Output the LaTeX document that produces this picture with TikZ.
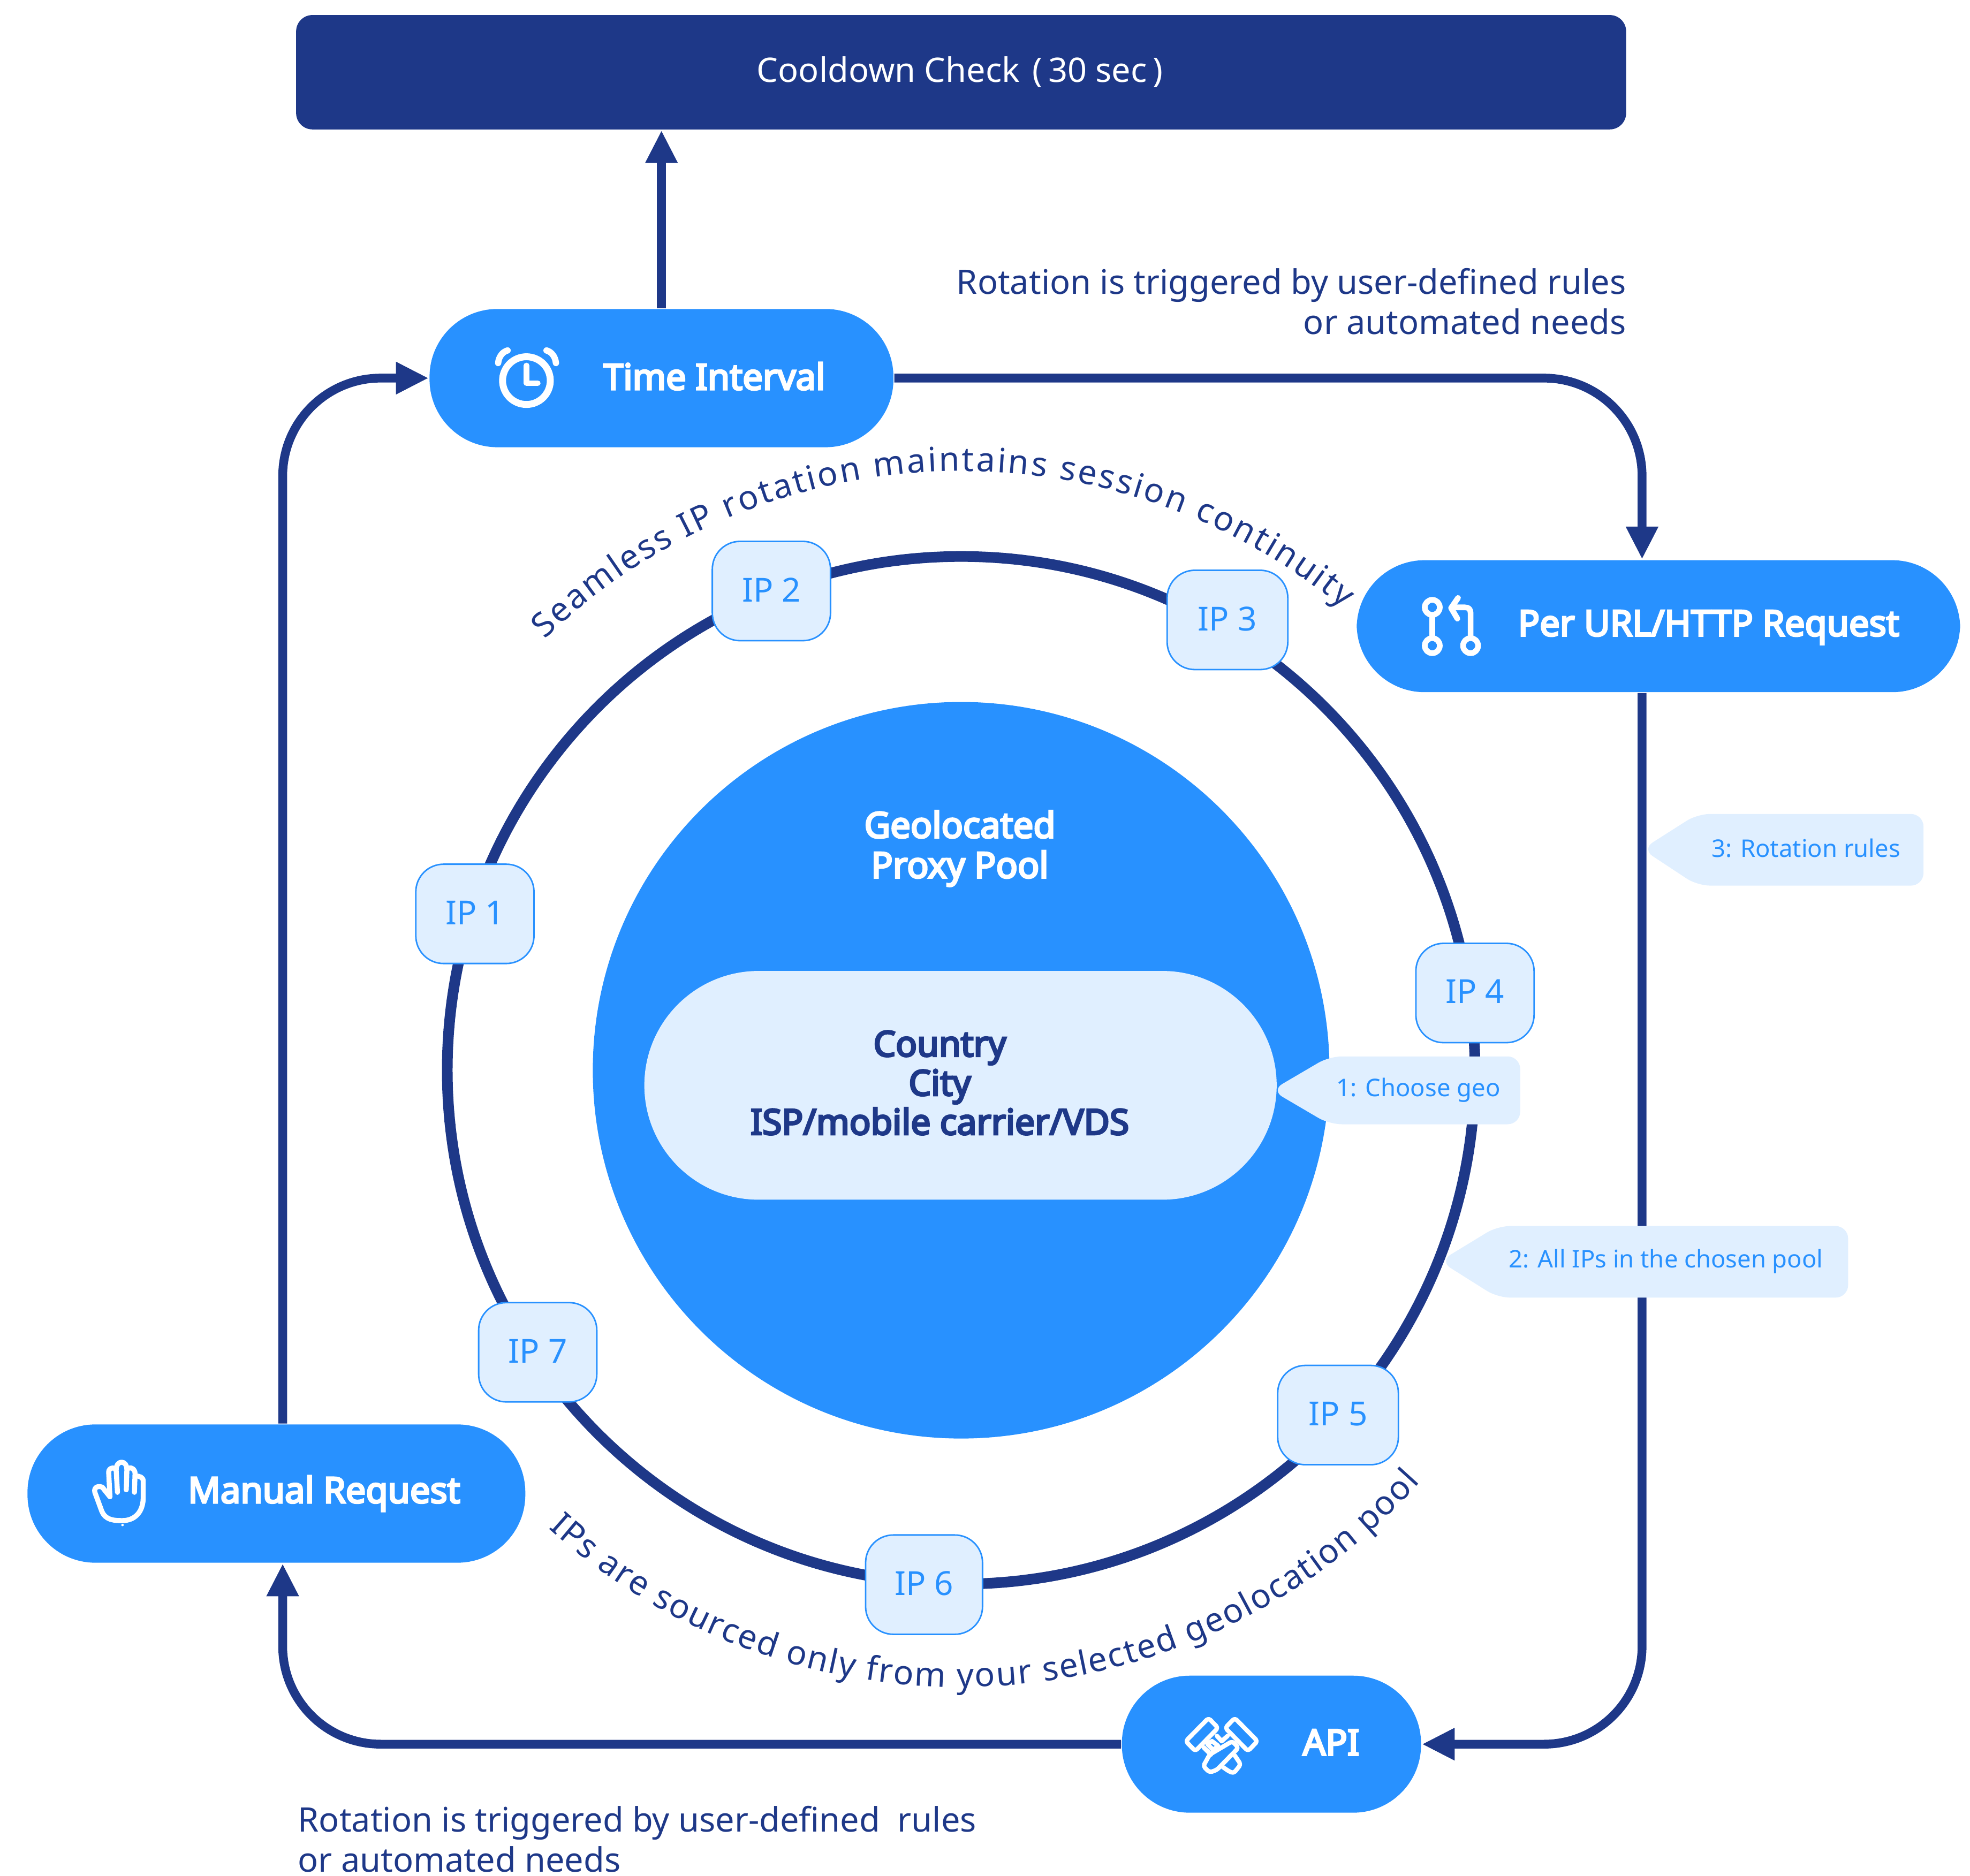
\documentclass[tikz,border=0pt]{standalone}
\usepackage{fontspec}
\setmainfont{Noto Sans}[AutoFakeBold=5]
\usetikzlibrary{arrows.meta,backgrounds,decorations.text}
\definecolor{navy}{HTML}{1E3888}
\definecolor{poolblue}{HTML}{2891FF}
\definecolor{paleblue}{HTML}{E0EFFF}
\tikzset{
  flow/.style={line width=0.07cm,navy,rounded corners=0.78cm,-{Triangle[length=0.26cm,width=0.24cm]}},
  pill/.style={rectangle,fill=poolblue,rounded corners=0.54cm,inner sep=0pt},
  pilltext/.style={white,font=\fontsize{8.1}{9.07}\selectfont\bfseries,inner sep=0pt},
  ipbox/.style={rectangle,draw=poolblue,line width=0.12mm,fill=paleblue,rounded corners=0.22cm,minimum width=0.94cm,minimum height=0.79cm,inner sep=0pt,text depth=0.6pt,text=poolblue,font=\fontsize{7.5}{9.1}\selectfont},
  tagtext/.style={text=poolblue,font=\fontsize{5.5}{8}\selectfont,inner sep=0pt},
  note/.style={text=navy,font=\fontsize{7.64}{9.07}\selectfont,inner sep=0pt},
  icon/.style={white,line width=0.045cm,line cap=round,line join=round},
  tag/.style={fill=paleblue,rounded corners=0.1cm}
}
\begin{document}
\begin{tikzpicture}[x=0.01cm,y=-0.01cm]
\useasboundingbox (0,0) rectangle (1568,1493.4);
%top bar
\node[rectangle,fill=navy,rounded corners=0.13cm,minimum width=10.58cm,minimum height=0.91cm,inner sep=0pt] (cooldown) at (765,57.5) {};
\node[white,font=\fontsize{7.64}{9.1}\selectfont,inner sep=0pt] (cooldownlabel) at (764,57.5) {Cooldown Check\hspace{0.1cm}(\,30 sec\,)};
%triggers
\node[pill,minimum width=3.69cm,minimum height=1.1cm] (time) at (526.5,301) {};
\node[pill,minimum width=4.8cm,minimum height=1.05cm] (perurl) at (1320,498.5) {};
\node[pill,minimum width=3.96cm,minimum height=1.1cm] (manual) at (220,1189) {};
\node[pill,minimum width=2.38cm,minimum height=1.09cm] (api) at (1012,1388.5) {};
\node[pilltext] (timelabel) at (568.5,299.5) {Time Interval};
\node[pilltext] (perurllabel) at (1360,499.5) {Per URL/HTTP Request};
\node[pilltext] (manuallabel) at (258,1189) {Manual Request};
\node[pilltext] (apilabel) at (1059.5,1387) {API};
%pool
\node[circle,fill=poolblue,minimum size=5.86cm,inner sep=0pt] (pool) at (765,852) {};
\node[pilltext,align=center] (poollabel) at (764,675.5) {Geolocated\\Proxy Pool};
\node[rectangle,fill=paleblue,rounded corners=0.91cm,minimum width=5.03cm,minimum height=1.82cm,inner sep=0pt] (geo) at (764.5,864) {};
\node[text=navy,font=\fontsize{8}{8.85}\selectfont\bfseries,align=center,inner sep=0pt] (geolabel) at (748,862) {Country\\City\\ISP/mobile carrier/VDS};
%ring and connectors
\begin{scope}[on background layer]
\draw[navy,line width=0.085cm] (765,852) circle[radius=409];
\draw[flow] (time.north) -- (time.north |- cooldown.south);
\draw[flow] (time.east) -| ([xshift=-0.13cm]perurl.north);
\draw[flow] ([xshift=-0.13cm]perurl.south) |- (api.east);
\draw[flow] (api.west) -| ([xshift=0.05cm]manual.south);
\draw[flow] ([xshift=0.05cm]manual.north) |- (time.west);
\end{scope}
%ip boxes
\node[ipbox] (ipone) at (378,727.5) {IP 1};
\node[ipbox] (iptwo) at (614,470.5) {IP 2};
\node[ipbox,minimum width=0.96cm] (ipthree) at (977,493.5) {IP 3};
\node[ipbox] (ipfour) at (1174,790.5) {IP 4};
\node[ipbox,minimum width=0.96cm] (ipfive) at (1065,1126.5) {IP 5};
\node[ipbox,minimum width=0.93cm] (ipsix) at (735.5,1261.5) {IP 6};
\node[ipbox] (ipseven) at (428,1076.5) {IP 7};
%tags
\fill[tag] (1012,868)--(1058,841)--(1210,841)--(1210,895)--(1058,895)--cycle;
\node[tagtext] (tagone) at (1129,868) {1: Choose geo};
\fill[tag] (1146,1004)--(1192,976)--(1471,976)--(1471,1033)--(1192,1033)--cycle;
\node[tagtext] (tagtwo) at (1326,1004) {2: All IPs in the chosen pool};
\fill[tag] (1307,676)--(1351,648)--(1531,648)--(1531,705)--(1351,705)--cycle;
\node[tagtext] (tagthree) at (1437.5,675) {3: Rotation rules};
%notes
\node[note,anchor=east,align=right] (notetop) at (1295,240) {Rotation is triggered by user-defined rules\\or automated needs};
\node[note,anchor=west,align=left] (notebottom) at (236.5,1464) {Rotation is triggered by user-defined\ \ rules\\or automated needs};
%curved text
\begin{scope}[shift={(765,852)},y=0.01cm]
\path[decorate,decoration={text along path,text align=fit to path,
  text={|\fontsize{7.6}{9}\selectfont\color{navy}|Seamless IP rotation maintains session continuity}}]
  (134:477) arc[start angle=134,end angle=50.5,radius=477];
\path[decorate,decoration={text along path,text align=fit to path,
  text={|\fontsize{7.6}{9}\selectfont\color{navy}|IPs are sourced only from your selected geolocation pool}}]
  (228:491) arc[start angle=228,end angle=318,radius=491];
\end{scope}
%clock
\draw[icon,line width=0.055cm] (419,303) circle[radius=19];
\draw[icon,line width=0.045cm] (419,291)--(419,305)--(428,305);
\draw[icon,line width=0.05cm] (396.5,289) .. controls (397,284) and (400,280) .. (404,279);
\draw[icon,line width=0.05cm] (442.5,289) .. controls (442,284) and (439,280) .. (435,279);
%branch
\draw[icon] (1140,483.5) circle[radius=6];
\draw[icon] (1140,514) circle[radius=6];
\draw[icon] (1170.5,514) circle[radius=6];
\draw[icon] (1140,490)--(1140,507);
\draw[icon] (1170.5,507)--(1170.5,488) .. controls (1170.5,485) and (1169,483.5) .. (1166,483.5)--(1156,483.5);
\draw[icon] (1160.5,476)--(1155,484)--(1160,492.5);
%hand
\draw[icon,line width=0.04cm] (87.5,1191.5)--(81.5,1184) .. controls (78,1182.5) and (74.5,1184) .. (75.5,1188)
  --(81,1203) .. controls (84,1210) and (90,1210.5) .. (97.5,1210.5) .. controls (107,1210.5) and (114,1204) .. (114,1192)
  --(114,1179) .. controls (114,1176) and (111,1175) .. (108,1175);
\draw[icon,line width=0.04cm] (87.5,1191.5)--(86.5,1172) .. controls (86.5,1168) and (92,1167.5) .. (92.5,1171)--(93.5,1188);
\draw[icon,line width=0.04cm] (92.5,1170) .. controls (92.5,1162) and (101,1162) .. (101,1170)--(100.5,1186);
\draw[icon,line width=0.04cm] (101,1170) .. controls (103,1167) and (107.5,1169) .. (107.5,1173)--(107,1188);
\fill[white] (97.5,1214) circle[radius=1];
%api
\draw[icon,line width=0.035cm,rounded corners=0.02cm] (961.9,1367.7)--(969.5,1375.5)--(951.4,1394)--(943.8,1386.1)--cycle;
\draw[icon,line width=0.035cm,rounded corners=0.02cm] (982.8,1367.7)--(975.2,1375.5)--(993.3,1394)--(1000.9,1386.1)--cycle;
\draw[icon,line width=0.035cm,rounded corners=0.02cm] (980.9,1386.1)--(985.7,1391.4)--(968.6,1408.9)--(962.8,1411)--(957.7,1406)--(962.8,1396.8)--cycle;
\draw[icon,line width=0.035cm,rounded corners=0.02cm] (982.8,1397.5)--(987.6,1404.6)--(981.9,1411.7)--(978,1410)--(973.3,1406.7);
\draw[icon,line width=0.035cm] (968.6,1381.9)--(972.4,1386.1)--(977.1,1381.9);
\draw[icon,line width=0.035cm] (958,1391)--(963.8,1396.8);
\draw[icon,line width=0.035cm] (960.9,1388.3)--(965.7,1393.2)--(969.5,1389.7)--(964.7,1386.1)--cycle;
\end{tikzpicture}
\end{document}
